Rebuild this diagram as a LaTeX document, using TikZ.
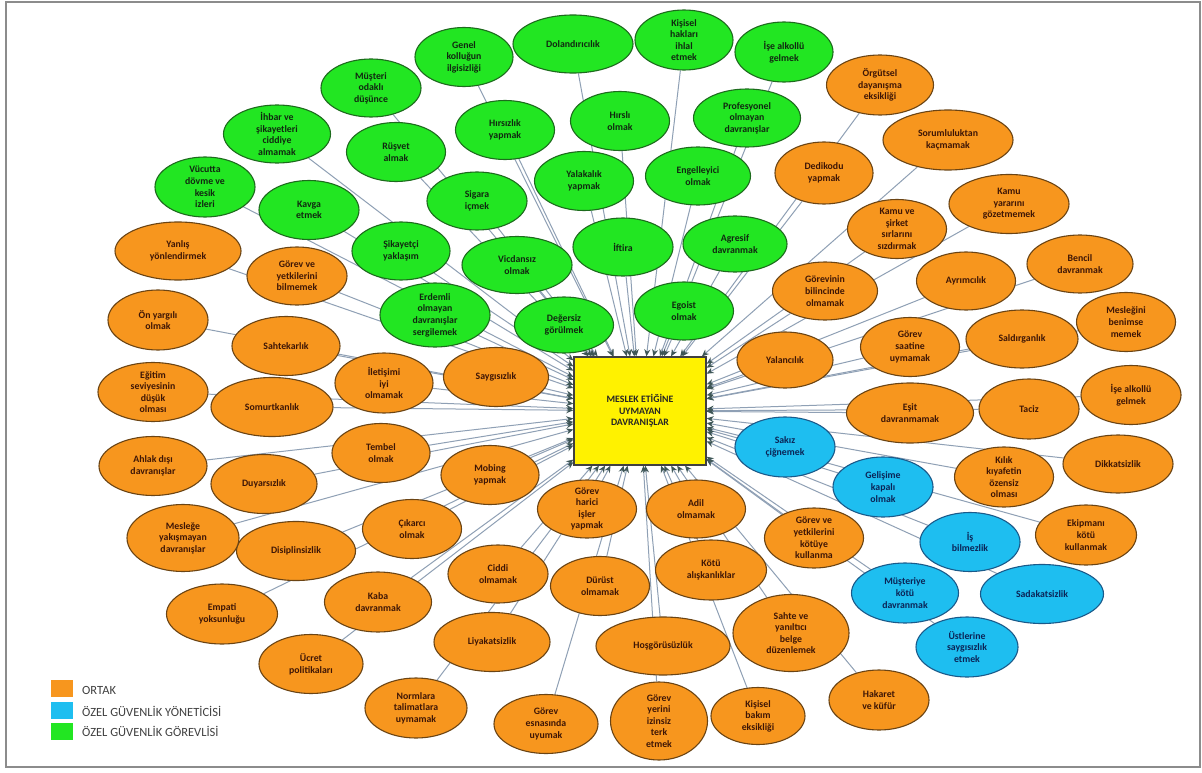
\documentclass[tikz,border=0pt]{standalone}
\usepackage{fontspec}
\setmainfont{Carlito}
\usetikzlibrary{shapes.geometric,arrows.meta}
\pgfdeclarelayer{bg}
\pgfsetlayers{bg,main}
\definecolor{orf}{HTML}{F7961E}
\definecolor{orb}{HTML}{6B4414}
\definecolor{ort}{HTML}{3E1606}
\definecolor{grf}{HTML}{22E622}
\definecolor{grb}{HTML}{1D6B1D}
\definecolor{grt}{HTML}{102810}
\definecolor{blf}{HTML}{1EBEF0}
\definecolor{blb}{HTML}{1A5A8A}
\definecolor{blt}{HTML}{0B2456}
\definecolor{conc}{HTML}{8FA0B5}
\definecolor{tipc}{HTML}{3E5656}
\definecolor{legt}{HTML}{404040}
\definecolor{frame}{HTML}{8C8C8C}
\newcommand{\EN}[7]{%
  \node[#6, minimum width=#4pt, minimum height=#5pt] (#1) at (#2,#3) {};
  \node[#6txt] (#1t) at (#1) {#7};}
\tikzset{
  basend/.style={ellipse, line width=1.1pt, inner sep=0pt},
  ornd/.style={basend, draw=orb, fill=orf},
  grnd/.style={basend, draw=grb, fill=grf},
  blnd/.style={basend, draw=blb, fill=blf},
  bastxt/.style={font=\bfseries\fontsize{9.8}{11.6}\selectfont, align=center, inner sep=0pt},
  orndtxt/.style={bastxt, text=ort},
  grndtxt/.style={bastxt, text=grt},
  blndtxt/.style={bastxt, text=blt},
  conn/.style={draw=conc, line width=1pt, -{Stealth[length=7pt,width=6pt,color=tipc]}},
  legbox/.style={minimum width=22pt, minimum height=17pt, inner sep=0pt},
  legtxt/.style={anchor=west, font=\fontsize{12.5}{14}\selectfont, text=legt, inner sep=0pt}
}
\begin{document}
\begin{tikzpicture}[x=1pt,y=-1pt]
\useasboundingbox (0,0) rectangle (1202,773);
\begin{pgfonlayer}{bg}
\fill[white] (0,0) rectangle (1202,773);
\end{pgfonlayer}
\draw[frame, line width=1.6pt] (6,2) rectangle (1200,767);

% central box
\node[draw=black!75, fill=yellow, line width=1.3pt, minimum width=132pt, minimum height=108pt, inner sep=0pt,
  font=\bfseries\fontsize{9.8}{11.7}\selectfont, align=center, text=black!85] (box) at (640,411)
  {MESLEK ETİĞİNE\\UYMAYAN\\DAVRANIŞLAR};

% green
\EN{g1}{573}{44}{120}{58}{grnd}{Dolandırıcılık}
\EN{g2}{684}{40}{98}{60}{grnd}{Kişisel\\hakları\\ihlal\\etmek}
\EN{g3}{784}{52}{98}{60}{grnd}{İşe alkollü\\gelmek}
\EN{g4}{464}{57}{98}{59}{grnd}{Genel\\kolluğun\\ilgisizliği}
\EN{g5}{371}{88}{100}{58}{grnd}{Müşteri\\odaklı\\düşünce}
\EN{g6}{277}{134}{107}{58}{grnd}{İhbar ve\\şikayetleri\\ciddiye\\almamak}
\EN{g7}{205}{187}{100}{60}{grnd}{Vücutta\\dövme ve\\kesik\\izleri}
\EN{g8}{309}{210}{100}{59}{grnd}{Kavga\\etmek}
\EN{g9}{396}{152}{99}{59}{grnd}{Rüşvet\\almak}
\EN{g10}{505}{130}{99}{59}{grnd}{Hırsızlık\\yapmak}
\EN{g11}{620}{121}{99}{59}{grnd}{Hırslı\\olmak}
\EN{g12}{747}{118}{107}{58}{grnd}{Profesyonel\\olmayan\\davranışlar}
\EN{g13}{477}{201}{100}{58}{grnd}{Sigara\\içmek}
\EN{g14}{584}{181}{99}{59}{grnd}{Yalakalık\\yapmak}
\EN{g15}{698}{176}{105}{58}{grnd}{Engelleyici\\olmak}
\EN{g16}{401}{251}{98}{58}{grnd}{Şikayetçi\\yaklaşım}
\EN{g17}{517}{265}{110}{57}{grnd}{Vicdansız\\olmak}
\EN{g18}{623}{247}{100}{58}{grnd}{İftira}
\EN{g19}{735}{244}{104}{56}{grnd}{Agresif\\davranmak}
\EN{g20}{435}{315}{110}{64}{grnd}{Erdemli\\olmayan\\davranışlar\\sergilemek}
\EN{g21}{564}{325}{99}{56}{grnd}{Değersiz\\görülmek}
\EN{g22}{684}{311}{99}{58}{grnd}{Egoist\\olmak}

% orange
\EN{o1}{880}{85}{107}{60}{ornd}{Örgütsel\\dayanışma\\eksikliği}
\EN{o2}{948}{140}{130}{60}{ornd}{Sorumluluktan\\kaçmamak}
\EN{o3}{824}{173}{98}{62}{ornd}{Dedikodu\\yapmak}
\EN{o4}{1009}{204}{120}{59}{ornd}{Kamu\\yararını\\gözetmemek}
\EN{o5}{897}{229}{99}{59}{ornd}{Kamu ve\\şirket\\sırlarını\\sızdırmak}
\EN{o6}{1080}{264}{106}{58}{ornd}{Bencil\\davranmak}
\EN{o7}{825}{291}{105}{58}{ornd}{Görevinin\\bilincinde\\olmamak}
\EN{o8}{966}{281}{99}{58}{ornd}{Ayrımcılık}
\EN{o9}{1126}{322}{99}{59}{ornd}{Mesleğini\\benimse\\memek}
\EN{o10}{1022}{339}{112}{58}{ornd}{Saldırganlık}
\EN{o11}{910}{347}{99}{59}{ornd}{Görev\\saatine\\uymamak}
\EN{o12}{785}{360}{96}{56}{ornd}{Yalancılık}
\EN{o13}{910}{413}{127}{60}{ornd}{Eşit\\davranmamak}
\EN{o14}{1029}{409}{100}{60}{ornd}{Taciz}
\EN{o15}{1131}{395}{100}{59}{ornd}{İşe alkollü\\gelmek}
\EN{o16}{1118}{464}{110}{58}{ornd}{Dikkatsizlik}
\EN{o17}{1004}{477}{99}{60}{ornd}{Kılık\\kıyafetin\\özensiz\\olması}
\EN{o18}{1086}{535}{101}{60}{ornd}{Ekipmanı\\kötü\\kullanmak}
\EN{o19}{879}{700}{100}{60}{ornd}{Hakaret\\ve küfür}
\EN{o20}{791}{633}{116}{77}{ornd}{Sahte ve\\yanıltıcı\\belge\\düzenlemek}
\EN{o21}{814}{538}{99}{60}{ornd}{Görev ve\\yetkilerini\\kötüye\\kullanma}
\EN{o22}{758}{716}{94}{57}{ornd}{Kişisel\\bakım\\eksikliği}
\EN{o23}{659}{721}{97}{78}{ornd}{Görev\\yerini\\izinsiz\\terk\\etmek}
\EN{o24}{663}{646}{134}{58}{ornd}{Hoşgörüsüzlük}
\EN{o25}{711}{570}{111}{60}{ornd}{Kötü\\alışkanlıklar}
\EN{o26}{696}{509}{99}{58}{ornd}{Adil\\olmamak}
\EN{o27}{587}{509}{99}{58}{ornd}{Görev\\harici\\işler\\yapmak}
\EN{o28}{600}{586}{99}{59}{ornd}{Dürüst\\olmamak}
\EN{o29}{498}{574}{100}{58}{ornd}{Ciddi\\olmamak}
\EN{o30}{492}{642}{116}{59}{ornd}{Liyakatsizlik}
\EN{o31}{546}{724}{104}{59}{ornd}{Görev\\esnasında\\uyumak}
\EN{o32}{416}{708}{102}{60}{ornd}{Normlara\\talimatlara\\uymamak}
\EN{o33}{311}{664}{104}{59}{ornd}{Ücret\\politikaları}
\EN{o34}{378}{602}{107}{60}{ornd}{Kaba\\davranmak}
\EN{o35}{222}{614}{111}{60}{ornd}{Empati\\yoksunluğu}
\EN{o36}{296}{551}{119}{59}{ornd}{Disiplinsizlik}
\EN{o37}{183}{538}{112}{67}{ornd}{Mesleğe\\yakışmayan\\davranışlar}
\EN{o38}{412}{529}{99}{59}{ornd}{Çıkarcı\\olmak}
\EN{o39}{490}{475}{98}{59}{ornd}{Mobing\\yapmak}
\EN{o40}{381}{453}{98}{59}{ornd}{Tembel\\olmak}
\EN{o41}{264}{484}{106}{59}{ornd}{Duyarsızlık}
\EN{o42}{153}{466}{108}{59}{ornd}{Ahlak dışı\\davranışlar}
\EN{o43}{153}{392}{110}{59}{ornd}{Eğitim\\seviyesinin\\düşük\\olması}
\EN{o44}{272}{407}{122}{59}{ornd}{Somurtkanlık}
\EN{o45}{384}{383}{98}{60}{ornd}{İletişimi\\iyi\\olmamak}
\EN{o46}{496}{377}{105}{59}{ornd}{Saygısızlık}
\EN{o47}{286}{346}{108}{59}{ornd}{Sahtekarlık}
\EN{o48}{158}{320}{100}{60}{ornd}{Ön yargılı\\olmak}
\EN{o49}{297}{276}{100}{58}{ornd}{Görev ve\\yetkilerini\\bilmemek}
\EN{o50}{178}{251}{126}{58}{ornd}{Yanlış\\yönlendirmek}

% blue
\EN{b1}{785}{447}{100}{60}{blnd}{Sakız\\çiğnemek}
\EN{b2}{883}{487}{100}{60}{blnd}{Gelişime\\kapalı\\olmak}
\EN{b3}{970}{542}{100}{59}{blnd}{İş\\bilmezlik}
\EN{b4}{1042}{594}{123}{59}{blnd}{Sadakatsizlik}
\EN{b5}{905}{593}{107}{60}{blnd}{Müşteriye\\kötü\\davranmak}
\EN{b6}{967}{647}{102}{60}{blnd}{Üstlerine\\saygısızlık\\etmek}

% connectors
\begin{pgfonlayer}{bg}
\foreach \i in {1,...,22} \draw[conn] (g\i) -- (box);
\foreach \i in {1,...,50} \draw[conn] (o\i) -- (box);
\foreach \i in {1,...,6} \draw[conn] (b\i) -- (box);
\end{pgfonlayer}

% legend
\node[legbox, fill=orf] (lg1) at (62,688) {};
\node[legbox, fill=blf] (lg2) at (62,710) {};
\node[legbox, fill=grf] (lg3) at (62,731) {};
\node[legtxt] (lg1t) at (82,690) {ORTAK};
\node[legtxt] (lg2t) at (82,711) {ÖZEL GÜVENLİK YÖNETİCİSİ};
\node[legtxt] (lg3t) at (82,731) {ÖZEL GÜVENLİK GÖREVLİSİ};
\end{tikzpicture}
\end{document}
